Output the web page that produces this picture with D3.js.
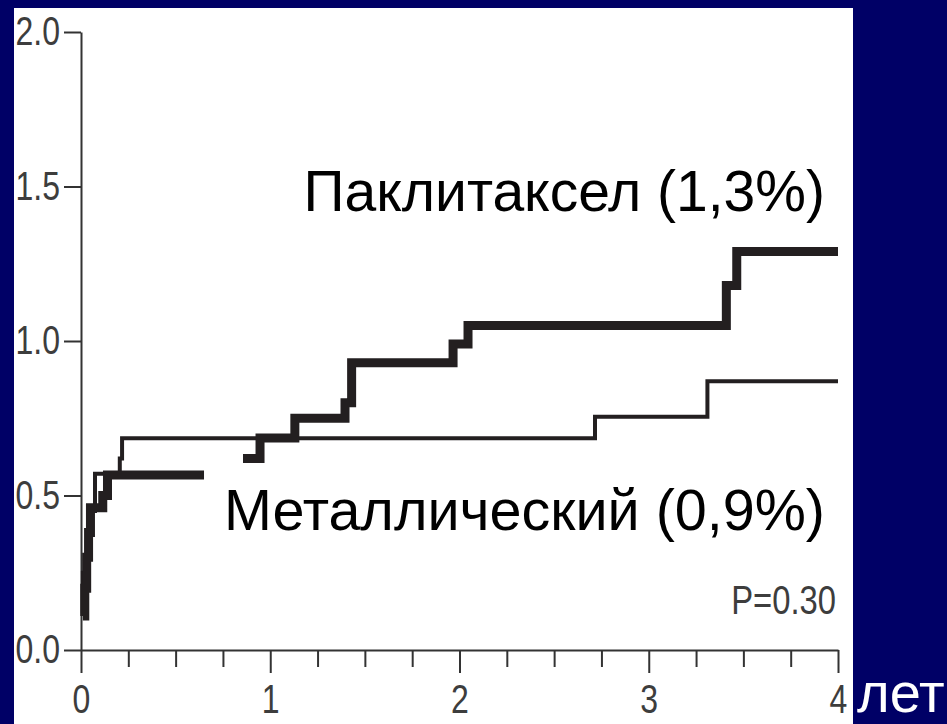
<!DOCTYPE html>
<html>
<head>
<meta charset="utf-8">
<script src="https://cdn.jsdelivr.net/npm/d3@7"></script>
<style>
  html, body { margin: 0; padding: 0; background: #000066; }
  svg { display: block; }
</style>
</head>
<body>
<svg id="chart" width="947" height="724"></svg>
<script>
// ---- data ----
const yTickValues = [0, 0.5, 1.0, 1.5, 2.0];
const yTickLabels = ["0.0", "0.5", "1.0", "1.5", "2.0"];
const xTickValues = [0, 1, 2, 3, 4];
const xTickLabels = ["0", "1", "2", "3", "4"];
const xMinorTicks = [0.25, 0.5, 0.75, 1.25, 1.5, 1.75, 2.25, 2.5, 2.75, 3.25, 3.5, 3.75];

// Paclitaxel (thick) step curve; null marks the gap in the drawn curve
const paclitaxelTimes  = [0.01, 0.02, 0.03, 0.04, 0.05, 0.115, 0.14, 0.65, 0.65, 0.856, 0.946, 1.13, 1.395, 1.43, 1.966, 2.045, 3.41, 3.465, 4.0];
const paclitaxelValues = [0.11, 0.20, 0.30, 0.38, 0.46, 0.50, 0.566, 0.566, null, 0.62, 0.686, 0.75, 0.80, 0.93, 0.99, 1.05, 1.18, 1.29, 1.29];

// Bare-metal (thin) step curve
const metalTimes  = [0.0, 0.01, 0.03, 0.05, 0.074, 0.205, 0.217, 2.716, 3.31, 4.0];
const metalValues = [0.12, 0.25, 0.35, 0.45, 0.57, 0.62, 0.685, 0.755, 0.87, 0.87];

const labelPaclitaxel = "Паклитаксел (1,3%)";
const labelMetal = "Металлический (0,9%)";
const pValueLabel = "P=0.30";
const xUnitLabel = "лет";

// ---- drawing ----
const svg = d3.select("#chart");
const narrow = 0.8;
const tickFont = "'Liberation Sans', Arial, sans-serif";

svg.append("rect").attr("x", 0).attr("y", 0).attr("width", 947).attr("height", 724).attr("fill", "#000066");
svg.append("rect").attr("x", 14).attr("y", 8).attr("width", 839).attr("height", 716).attr("fill", "#ffffff");

const x = d3.scaleLinear().domain([0, 4]).range([81, 838]);
const y = d3.scaleLinear().domain([0, 2]).range([650, 32]);

const axisColor = "#333333";
const labelColor = "#3d3d3d";

// Y axis
const yAxis = svg.append("g")
  .attr("transform", `translate(${x(0)},0)`)
  .call(d3.axisLeft(y).tickValues(yTickValues)
    .tickFormat((d, i) => yTickLabels[i])
    .tickSize(17).tickSizeOuter(0).tickPadding(4));
yAxis.select(".domain").attr("stroke", axisColor).attr("stroke-width", 2);
yAxis.selectAll(".tick line").attr("stroke", axisColor).attr("stroke-width", 2);
yAxis.selectAll(".tick text")
  .attr("fill", labelColor).attr("font-size", 40).attr("font-family", tickFont)
  .attr("x", -21 / narrow)
  .attr("transform", `scale(${narrow},1)`);

// X axis minor ticks
const xMinor = svg.append("g")
  .attr("transform", `translate(0,${y(0)})`)
  .call(d3.axisBottom(x).tickValues(xMinorTicks).tickFormat("").tickSize(17).tickSizeOuter(0));
xMinor.select(".domain").remove();
xMinor.selectAll(".tick line").attr("stroke", axisColor).attr("stroke-width", 2);

// X axis major
const xAxis = svg.append("g")
  .attr("transform", `translate(0,${y(0)})`)
  .call(d3.axisBottom(x).tickValues(xTickValues)
    .tickFormat((d, i) => xTickLabels[i])
    .tickSize(23).tickSizeOuter(0).tickPadding(12));
xAxis.select(".domain").attr("stroke", axisColor).attr("stroke-width", 2);
xAxis.selectAll(".tick line").attr("stroke", axisColor).attr("stroke-width", 2);
xAxis.selectAll(".tick text")
  .attr("fill", labelColor).attr("font-size", 40).attr("font-family", tickFont)
  .attr("transform", `scale(${narrow},1)`);

// Curves
const metalData = metalTimes.map((t, i) => ({ t, v: metalValues[i] }));
const pacData = paclitaxelTimes.map((t, i) => ({ t, v: paclitaxelValues[i] }));

const line = d3.line()
  .defined(d => d.v !== null)
  .x(d => x(d.t))
  .y(d => y(d.v))
  .curve(d3.curveStepAfter);

svg.append("path")
  .datum(metalData)
  .attr("d", line)
  .attr("fill", "none")
  .attr("stroke", "#231f20")
  .attr("stroke-width", 4)
  .attr("stroke-linejoin", "miter");

svg.append("path")
  .datum(pacData)
  .attr("d", line)
  .attr("fill", "none")
  .attr("stroke", "#231f20")
  .attr("stroke-width", 9)
  .attr("stroke-linejoin", "miter");

// Text labels
svg.append("text")
  .attr("x", 825).attr("y", 211)
  .attr("text-anchor", "end")
  .attr("font-family", "'Liberation Sans', Arial, sans-serif")
  .attr("font-size", 57)
  .attr("fill", "#000")
  .text(labelPaclitaxel);

svg.append("text")
  .attr("x", 825).attr("y", 530)
  .attr("text-anchor", "end")
  .attr("font-family", "'Liberation Sans', Arial, sans-serif")
  .attr("font-size", 57.5)
  .attr("fill", "#000")
  .text(labelMetal);

svg.append("text")
  .attr("transform", `translate(836,614) scale(${narrow},1)`)
  .attr("text-anchor", "end")
  .attr("font-family", tickFont)
  .attr("font-size", 41)
  .attr("fill", labelColor)
  .text(pValueLabel);

svg.append("text")
  .attr("x", 857).attr("y", 712)
  .attr("font-family", "'Liberation Sans', Arial, sans-serif")
  .attr("font-size", 56)
  .attr("fill", "#ffffff")
  .text(xUnitLabel);
</script>
</body>
</html>
